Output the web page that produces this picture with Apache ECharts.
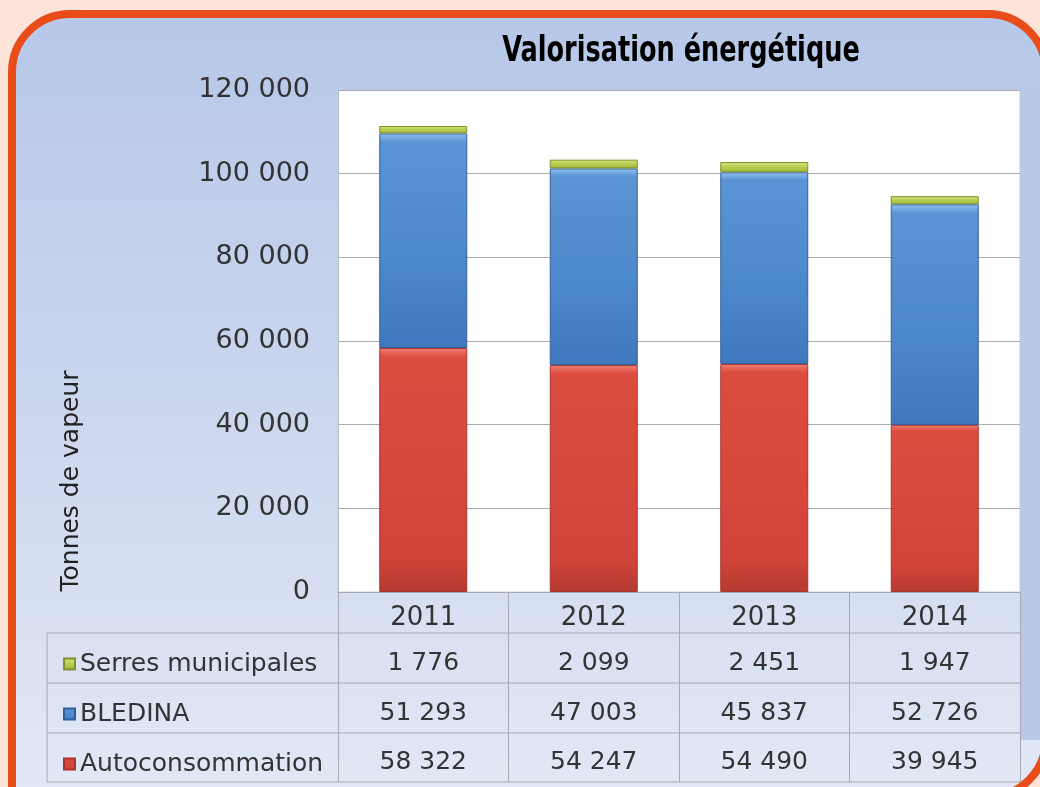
<!DOCTYPE html>
<html>
<head>
<meta charset="utf-8">
<script src="https://cdn.jsdelivr.net/npm/echarts@6/dist/echarts.min.js"></script>
<style>
  html, body { margin: 0; padding: 0; background: #fde3d8; }
  #chart { width: 1040px; height: 787px; }
</style>
</head>
<body>
<div id="chart"></div>
<script>
var years = ['2011', '2012', '2013', '2014'];
var serres = [1776, 2099, 2451, 1947];
var bledina = [51293, 47003, 45837, 52726];
var autoconso = [58322, 54247, 54490, 39945];
var seriesNames = ['Serres municipales', 'BLEDINA', 'Autoconsommation'];

var FONT = 'DejaVu Sans';

function fmt(v) {
    return String(v).replace(/\B(?=(\d{3})+(?!\d))/g, ' ');
}

function vgrad(stops) {
    return new echarts.graphic.LinearGradient(0, 0, 0, 1, stops.map(function (s) {
        return {offset: s[0], color: s[1]};
    }));
}

// lignes du tableau sous le graphique
function valueAxis(data, offset) {
    return {
        type: 'category',
        gridIndex: 0,
        position: 'bottom',
        offset: offset,
        data: data.map(fmt),
        axisLine: {show: false},
        axisTick: {show: false},
        axisLabel: {fontSize: 25, color: '#333', fontFamily: FONT, margin: 10}
    };
}

var tableLines = [633, 683, 733, 782].map(function (y) {
    return {
        type: 'line',
        shape: {x1: 47, y1: y, x2: 1020, y2: y},
        style: {stroke: '#a4a9b4', lineWidth: 1}
    };
});
tableLines.push({
    type: 'line',
    shape: {x1: 47, y1: 633, x2: 47, y2: 782},
    style: {stroke: '#a4a9b4', lineWidth: 1}
});

var chart = echarts.init(document.getElementById('chart'));
chart.setOption({
    backgroundColor: '#fde3d8',
    animation: false,
    graphic: [
        {
            type: 'rect',
            z: -10,
            shape: {x: 12, y: 14, width: 1034, height: 783, r: [58, 58, 58, 0]},
            style: {
                fill: vgrad([[0, '#b6c7e8'], [0.45, '#c9d5ee'], [1, '#e2e8f5']]),
                stroke: '#e84c1a',
                lineWidth: 8
            }
        },
        {
            type: 'rect',
            z: -9,
            shape: {x: 1020, y: 88, width: 20, height: 652},
            style: {fill: '#b8c8e8'}
        },
        {
            // titre en gras condensé
            type: 'text',
            x: 681,
            y: 52,
            scaleX: 0.79,
            style: {
                text: 'Valorisation énergétique',
                font: 'bold 36px "DejaVu Sans Condensed", sans-serif',
                fill: '#000',
                textAlign: 'center',
                textVerticalAlign: 'middle'
            }
        }
    ].concat(tableLines),
    legend: {
        orient: 'vertical',
        left: 63,
        top: 651,
        padding: 0,
        itemWidth: 11,
        itemHeight: 11,
        itemGap: 24,
        selectedMode: false,
        icon: 'rect',
        data: seriesNames,
        textStyle: {fontSize: 25, lineHeight: 26, color: '#333', fontFamily: FONT}
    },
    grid: {
        left: 338,
        top: 90,
        width: 682,
        height: 502,
        show: true,
        backgroundColor: '#ffffff',
        borderColor: '#c6cad2',
        borderWidth: 1
    },
    xAxis: [
        {
            type: 'category',
            data: years,
            axisLine: {lineStyle: {color: '#a4a9b4'}},
            axisTick: {show: true, length: 190, lineStyle: {color: '#a4a9b4'}},
            axisLabel: {fontSize: 26, color: '#333', fontFamily: FONT, margin: 13}
        },
        valueAxis(serres, 49),
        valueAxis(bledina, 99),
        valueAxis(autoconso, 148)
    ],
    yAxis: {
        type: 'value',
        min: 0,
        max: 120000,
        interval: 20000,
        name: 'Tonnes de vapeur',
        nameLocation: 'middle',
        nameGap: 254,
        nameTextStyle: {fontSize: 25, color: '#222', fontFamily: FONT, padding: [0, 280, 0, 0]},
        axisLine: {show: true, lineStyle: {color: '#b8bcc4'}},
        axisTick: {show: false},
        axisLabel: {fontSize: 27, color: '#333', fontFamily: FONT, margin: 28, formatter: fmt},
        splitLine: {lineStyle: {color: '#ababab'}}
    },
    series: [
        {
            name: 'Autoconsommation',
            type: 'bar',
            stack: 'total',
            barWidth: 88,
            data: autoconso,
            itemStyle: {
                color: vgrad([[0, '#f08478'], [0.035, '#dc4d40'], [0.85, '#d2443a'], [1, '#b53a30']]),
                borderColor: '#a8352b',
                borderWidth: 1
            }
        },
        {
            name: 'BLEDINA',
            type: 'bar',
            stack: 'total',
            data: bledina,
            itemStyle: {
                color: vgrad([[0, '#92c2f0'], [0.04, '#5a94d4'], [0.6, '#4d88ca'], [1, '#3f78bc']]),
                borderColor: '#2f5f9c',
                borderWidth: 1
            }
        },
        {
            name: 'Serres municipales',
            type: 'bar',
            stack: 'total',
            data: serres,
            itemStyle: {
                color: vgrad([[0, '#d8e47c'], [0.5, '#b9cd4f'], [1, '#9fb23c']]),
                borderColor: '#7f9030',
                borderWidth: 1
            }
        }
    ]
});
</script>
</body>
</html>
